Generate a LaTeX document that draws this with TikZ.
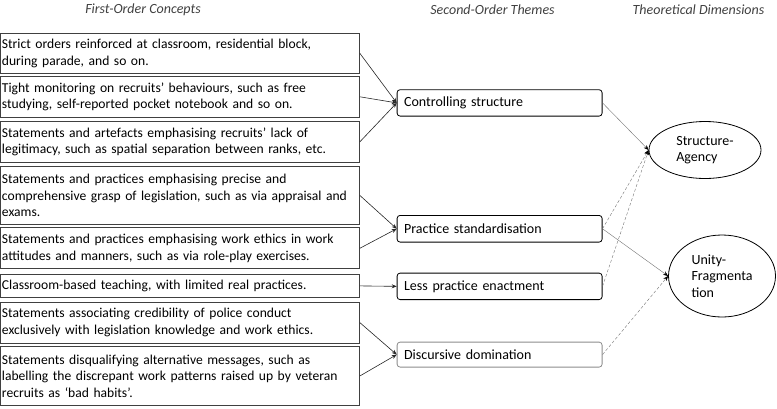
\documentclass[tikz,border=0pt]{standalone}
\usepackage{fontspec}
\setmainfont{Carlito}
\usetikzlibrary{shapes.geometric,arrows.meta}
\begin{document}
\begin{tikzpicture}[x=1pt,y=-1pt,
 font=\fontsize{14}{16.6}\selectfont,
 concept/.style={draw=black!75,line width=0.9pt,rectangle,anchor=north west,minimum width=358pt,text width=356pt,inner xsep=1.5pt,inner ysep=0pt,align=left,font=\fontsize{13.6}{16.6}\selectfont},
 theme/.style={draw=black,line width=0.8pt,rounded corners=3pt,rectangle,anchor=north west,minimum width=205pt,text width=191pt,inner xsep=7pt,inner ysep=0pt,align=left},
 dim/.style={draw=black,line width=0.8pt,ellipse,inner sep=0pt,align=left},
 header/.style={font=\fontsize{14}{16.6}\selectfont\itshape,text=black!75},
 feed/.style={draw=black!85,line width=0.6pt,-{Stealth[length=5pt,width=4pt]}},
 link/.style={draw=black!55,line width=0.4pt,-{Stealth[length=5pt,width=4pt,black]}},
 dlink/.style={link,dash pattern=on 3pt off 2pt}]
\useasboundingbox (0,0) rectangle (777,408);

\node[header] (h1) at (143,10) {First-Order Concepts};
\node[header] (h2) at (492.5,9.5) {Second-Order Themes};
\node[header] (h3) at (698.5,9.5) {Theoretical Dimensions};

\node[concept,minimum height=40.8pt] (c1) at (0,32.5) {Strict orders reinforced at classroom, residential block,\\during parade, and so on.};
\node[concept,minimum height=40.7pt] (c2) at (0,76) {Tight monitoring on recruits’ behaviours, such as free\\studying, self-reported pocket notebook and so on.};
\node[concept,minimum height=40.7pt] (c3) at (0,121) {Statements and artefacts emphasising recruits’ lack of\\legitimacy, such as spatial separation between ranks, etc.};
\node[concept,minimum height=58pt] (c4) at (0,166) {Statements and practices emphasising precise and\\comprehensive grasp of legislation, such as via appraisal and\\exams.};
\node[concept,minimum height=41pt] (c5) at (0,227.3) {Statements and practices emphasising work ethics in work\\attitudes and manners, such as via role-play exercises.};
\node[concept,minimum height=22.3pt] (c6) at (0,274.3) {Classroom-based teaching, with limited real practices.};
\node[concept,minimum height=41pt] (c7) at (0,301.7) {Statements associating credibility of police conduct\\exclusively with legislation knowledge and work ethics.};
\node[concept,minimum height=59pt] (c8) at (0,346) {Statements disqualifying alternative messages, such as\\labelling the discrepant work patterns raised up by veteran\\recruits as ‘bad habits’.};

\node[theme,minimum height=26.4pt] (t1) at (396.7,89.3) {Controlling structure};
\node[theme,minimum height=26.7pt] (t2) at (396.7,215) {Practice standardisation};
\node[theme,minimum height=26.5pt] (t3) at (396.7,272.7) {Less practice enactment};
\node[theme,draw=black!45,minimum height=25pt] (t4) at (396.7,341.7) {Discursive domination};

\node[dim,minimum width=112pt,minimum height=57pt] (s) at (705,150) {Structure-\\Agency};
\node[dim,minimum width=107pt,minimum height=82pt] (u) at (722,276) {Unity-\\Fragmenta\\tion};

\draw[feed] (c1.east) -- (t1.west);
\draw[feed] (c2.east) -- (t1.west);
\draw[feed] (c3.east) -- (t1.west);
\draw[feed] (c4.east) -- (t2.west);
\draw[feed] (c5.east) -- (t2.west);
\draw[feed] (c6.east) -- (t3.west);
\draw[feed] (c7.east) -- (t4.west);
\draw[feed] (c8.east) -- (t4.west);

\draw[link] (t1.east) -- (s.west);
\draw[dlink] (t2.east) -- (s.west);
\draw[link] (t2.east) -- (u.west);
\draw[dlink] (t3.east) -- (s.west);
\draw[dlink] (t4.east) -- (u.west);
\end{tikzpicture}
\end{document}
